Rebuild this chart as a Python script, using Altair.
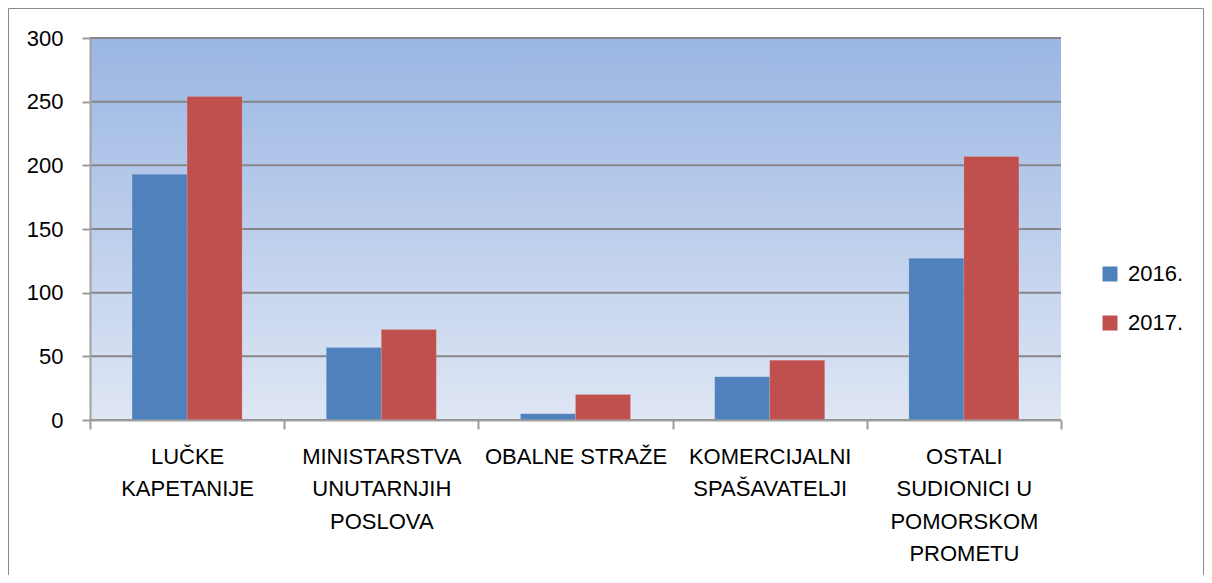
import altair as alt
import pandas as pd

categories = [
    "LUČKE\nKAPETANIJE",
    "MINISTARSTVA\nUNUTARNJIH\nPOSLOVA",
    "OBALNE STRAŽE",
    "KOMERCIJALNI\nSPAŠAVATELJI",
    "OSTALI\nSUDIONICI U\nPOMORSKOM\nPROMETU",
]
years = ["2016.", "2017."]
values_2016 = [193, 57, 5, 34, 127]
values_2017 = [254, 71, 20, 47, 207]
y_ticks = [0, 50, 100, 150, 200, 250, 300]
colors = ["#4F81BD", "#C0504D"]

W, H = 971, 382
PAD_L, PAD_T, PAD_R, PAD_B = 82, 30, 143, 155
FONT = "Liberation Sans"

rows = []
for c, a, b in zip(categories, values_2016, values_2017):
    rows.append({"cat": c, "year": years[0], "value": a})
    rows.append({"cat": c, "year": years[1], "value": b})
df = pd.DataFrame(rows)

one = pd.DataFrame({"k": [0]})

y_axis = alt.Axis(
    title=None,
    values=y_ticks,
    tickSize=8,
    tickColor="#9A9A9A",
    tickWidth=2,
    labelPadding=19,
    labelFontSize=22,
    domainColor="#A0A0A0",
    domainWidth=2,
    grid=False,
    zindex=1,
)
y_scale = alt.Scale(domain=[0, 300])

bg = alt.Chart(one).mark_rect(
    color=alt.Gradient(
        gradient="linear",
        stops=[
            alt.GradientStop(color="#9AB6E3", offset=0),
            alt.GradientStop(color="#DFE6F4", offset=1),
        ],
        x1=0, x2=0, y1=0, y2=1,
    )
).encode(x=alt.value(0), x2=alt.value(W), y=alt.value(0), y2=alt.value(H))

border = alt.Chart(one).mark_rect(
    fillOpacity=0, stroke="#8A8A8A", strokeWidth=1, clip=False
).encode(
    x=alt.value(-PAD_L + 0.5),
    x2=alt.value(W + PAD_R - 0.5),
    y=alt.value(-PAD_T + 0.5),
    y2=alt.value(H + 200),
)

grid = alt.Chart(pd.DataFrame({"value": y_ticks})).mark_rule(
    color="#868686", strokeWidth=2
).encode(y=alt.Y("value:Q", scale=y_scale, axis=y_axis))

bars = alt.Chart(df).mark_bar(stroke="#FFFFFF", strokeOpacity=0.25, strokeWidth=0.5).encode(
    x=alt.X(
        "cat:N",
        sort=categories,
        scale=alt.Scale(paddingInner=0, paddingOuter=0),
        axis=alt.Axis(
            title=None,
            labelExpr="split(datum.label, '\\n')",
            labelAngle=0,
            labelBaseline="top",
            labelPadding=17,
            labelLineHeight=32.5,
            labelLimit=0,
            labelFontSize=22,
            tickBand="extent",
            tickSize=9,
            tickColor="#9A9A9A",
            tickWidth=2,
            domainColor="#A0A0A0",
            domainWidth=2,
            grid=False,
            zindex=1,
        ),
    ),
    xOffset=alt.XOffset("year:N", sort=years, scale=alt.Scale(paddingInner=0, paddingOuter=0.765)),
    y=alt.Y("value:Q", scale=y_scale, axis=y_axis),
    color=alt.Color(
        "year:N",
        sort=years,
        scale=alt.Scale(domain=years, range=colors),
        legend=alt.Legend(
            title=None,
            orient="none",
            legendX=1009,
            legendY=225,
            symbolType="square",
            symbolSize=225,
            symbolStrokeWidth=0,
            labelFontSize=22,
            labelFont=FONT,
            labelColor="#000000",
            labelOffset=7,
            rowPadding=27,
            padding=0,
        ),
    ),
)

chart = (
    alt.layer(bg, grid, bars, border)
    .properties(
        width=W,
        height=H,
        autosize=alt.AutoSizeParams(type="none"),
        padding={"left": PAD_L, "top": PAD_T, "right": PAD_R, "bottom": PAD_B},
    )
    .configure_view(strokeWidth=0)
    .configure_axis(labelFont=FONT, labelFontSize=22, labelColor="#000000")
)

chart.save("out.html", embed_options={"renderer": "svg", "actions": False})
